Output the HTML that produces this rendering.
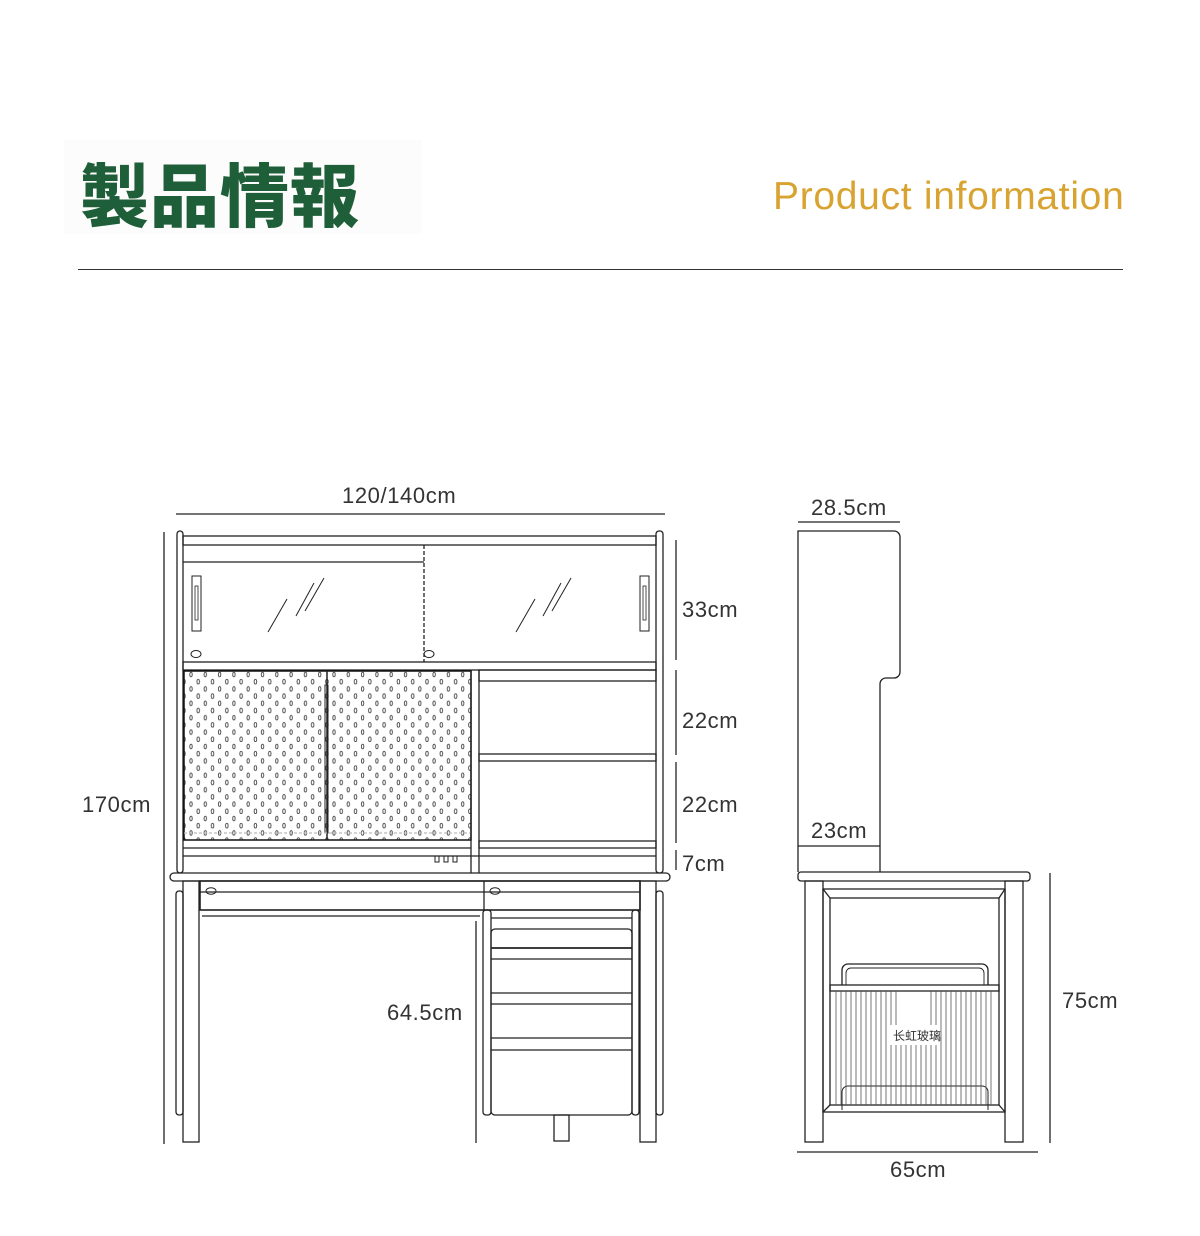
<!DOCTYPE html>
<html><head><meta charset="utf-8"><style>
html,body{margin:0;padding:0;background:#fff;}
body{width:1200px;height:1236px;overflow:hidden;position:relative;font-family:"Liberation Sans","Noto Sans CJK JP",sans-serif;}
.t{position:absolute;color:#333;font-size:22px;letter-spacing:0.6px;}
</style></head><body>
<div style="position:absolute;left:64px;top:140px;width:358px;height:94px;background:#fcfcfc"></div>
<div style="position:absolute;left:80px;top:146px;font-family:'Noto Sans CJK JP',sans-serif;font-weight:900;font-size:69px;color:#1e5e38;letter-spacing:1px;line-height:90px">製品情報</div>
<div style="position:absolute;left:773px;top:174px;font-size:39px;color:#d9a331;line-height:46px;letter-spacing:0.7px">Product information</div>
<div style="position:absolute;left:78px;top:269px;width:1045px;height:1px;background:#333"></div>

<svg width="1200" height="1236" style="position:absolute;left:0;top:0" fill="none" stroke="#222" stroke-width="1.3">
<defs>
<pattern id="peg" x="184" y="671" width="14.3" height="14.4" patternUnits="userSpaceOnUse">
<ellipse cx="7" cy="3.5" rx="1.2" ry="2.3" stroke="#444" stroke-width="0.9"/>
<ellipse cx="14.15" cy="10.7" rx="1.2" ry="2.3" stroke="#444" stroke-width="0.9"/>
<ellipse cx="0" cy="10.7" rx="1.2" ry="2.3" stroke="#444" stroke-width="0.9"/>
</pattern>
</defs>
<line x1="176" y1="514" x2="665" y2="514"/>
<line x1="164" y1="532" x2="164" y2="1144"/>
<line x1="676" y1="540" x2="676" y2="660"/>
<line x1="676" y1="670" x2="676" y2="755"/>
<line x1="676" y1="762" x2="676" y2="843"/>
<line x1="676" y1="850" x2="676" y2="870"/>
<line x1="476" y1="921" x2="476" y2="1143"/>
<rect x="177" y="531" width="6" height="342" rx="3"/>
<rect x="656" y="531" width="7" height="342" rx="3"/>
<rect x="183" y="536" width="473" height="9"/>
<line x1="183" y1="562" x2="424" y2="562"/>
<line x1="424" y1="545" x2="424" y2="662" stroke-dasharray="4 2"/>
<rect x="192" y="576" width="9" height="55" stroke-width="1"/>
<rect x="195" y="586" width="3" height="34" stroke-width="0.8"/>
<rect x="640" y="576" width="9" height="55" stroke-width="1"/>
<rect x="643" y="586" width="3" height="34" stroke-width="0.8"/>
<ellipse cx="196" cy="654" rx="5" ry="3.5" stroke-width="1"/>
<ellipse cx="429" cy="654" rx="5" ry="3.5" stroke-width="1"/>
<g stroke-width="1">
<line x1="268" y1="632" x2="287" y2="599"/><line x1="296" y1="616" x2="314" y2="583"/><line x1="305" y1="611" x2="324" y2="578"/>
<line x1="516" y1="632" x2="535" y2="599"/><line x1="543" y1="616" x2="561" y2="583"/><line x1="552" y1="611" x2="571" y2="578"/>
</g>
<rect x="183" y="662" width="473" height="8"/>
<rect x="184" y="671" width="287" height="169" fill="url(#peg)" stroke="#111" stroke-width="1.5"/>
<line x1="327" y1="671" x2="327" y2="840" stroke-width="1.5"/>
<rect x="325" y="685" width="3" height="148" stroke-width="1"/>
<line x1="184" y1="833" x2="471" y2="833" stroke="#bbb" stroke-dasharray="3 2"/>
<line x1="471" y1="670" x2="471" y2="873"/>
<line x1="479" y1="670" x2="479" y2="873"/>
<rect x="479" y="670" width="177" height="11"/>
<rect x="479" y="754" width="177" height="7"/>
<rect x="479" y="841" width="177" height="7"/>
<line x1="183" y1="848" x2="471" y2="848"/>
<line x1="183" y1="856" x2="656" y2="856"/>
<path d="M435 856 v6 h4 v-6 M444 856 v6 h4 v-6 M453 856 v6 h4 v-6" stroke-width="1"/>
<rect x="170" y="873" width="500" height="8" rx="4"/>
<rect x="200" y="881" width="440" height="29" stroke-width="1.6"/>
<line x1="200" y1="892" x2="640" y2="892"/>
<line x1="484" y1="881" x2="484" y2="910"/>
<ellipse cx="211" cy="891" rx="5" ry="3.3" stroke-width="1"/>
<ellipse cx="495" cy="891" rx="5" ry="3.3" stroke-width="1"/>
<line x1="202" y1="916" x2="480" y2="916"/>
<rect x="183" y="881" width="16" height="261"/>
<rect x="640" y="881" width="16" height="261"/>
<rect x="176" y="891" width="7" height="224" rx="3"/>
<rect x="656" y="891" width="7" height="224" rx="3"/>
<rect x="483" y="910" width="8" height="205" rx="3"/>
<rect x="632" y="910" width="7" height="205" rx="3"/>
<line x1="491" y1="918" x2="632" y2="918"/>
<rect x="491" y="929" width="141" height="186" rx="4"/>
<line x1="491" y1="948" x2="632" y2="948" stroke-width="1.8"/>
<line x1="491" y1="959" x2="632" y2="959"/>
<line x1="491" y1="993" x2="632" y2="993"/>
<line x1="491" y1="1004" x2="632" y2="1004"/>
<line x1="491" y1="1038" x2="632" y2="1038"/>
<line x1="491" y1="1050" x2="632" y2="1050"/>
<rect x="554" y="1115" width="15" height="26"/>

<line x1="798" y1="522" x2="900" y2="522"/>
<path d="M798 872 V531 H894 a6 6 0 0 1 6 6 V672 a6 6 0 0 1 -6 6 H886 a6 6 0 0 0 -6 6 V872"/>
<line x1="798" y1="846" x2="880" y2="846"/>
<rect x="798" y="872" width="232" height="9" rx="3"/>
<rect x="805" y="881" width="18" height="261"/>
<rect x="1005" y="881" width="18" height="261"/>
<rect x="823" y="889" width="182" height="223"/>
<rect x="830" y="898" width="169" height="207"/>
<line x1="823" y1="889" x2="830" y2="898"/><line x1="1005" y1="889" x2="999" y2="898"/>
<line x1="823" y1="1112" x2="830" y2="1105"/><line x1="1005" y1="1112" x2="999" y2="1105"/>
<path d="M842 985 V970 a6 6 0 0 1 6 -6 H982 a6 6 0 0 1 6 6 V985"/>
<path d="M846 985 V973 a5 5 0 0 1 5 -5 H979 a5 5 0 0 1 5 5 V985" stroke-width="0.9"/>
<rect x="830" y="985" width="169" height="6"/>
<path d="M842 1110 V1092 a6 6 0 0 1 6 -6 H982 a6 6 0 0 1 6 6 V1110" stroke-width="1"/>
<g stroke-width="0.8" stroke="#555">
<line x1="836" y1="991" x2="836" y2="1105"/><line x1="841" y1="991" x2="841" y2="1105"/><line x1="846" y1="991" x2="846" y2="1105"/><line x1="851" y1="991" x2="851" y2="1105"/><line x1="856" y1="991" x2="856" y2="1105"/><line x1="861" y1="991" x2="861" y2="1105"/><line x1="866" y1="991" x2="866" y2="1105"/><line x1="871" y1="991" x2="871" y2="1105"/><line x1="876" y1="991" x2="876" y2="1105"/><line x1="881" y1="991" x2="881" y2="1105"/><line x1="886" y1="991" x2="886" y2="1105"/><line x1="891" y1="991" x2="891" y2="1025"/><line x1="891" y1="1045" x2="891" y2="1105"/><line x1="936" y1="991" x2="936" y2="1025"/><line x1="936" y1="1045" x2="936" y2="1105"/><line x1="941" y1="991" x2="941" y2="1105"/><line x1="946" y1="991" x2="946" y2="1105"/><line x1="951" y1="991" x2="951" y2="1105"/><line x1="956" y1="991" x2="956" y2="1105"/><line x1="961" y1="991" x2="961" y2="1105"/><line x1="966" y1="991" x2="966" y2="1105"/><line x1="971" y1="991" x2="971" y2="1105"/><line x1="976" y1="991" x2="976" y2="1105"/><line x1="981" y1="991" x2="981" y2="1105"/><line x1="986" y1="991" x2="986" y2="1105"/><line x1="991" y1="991" x2="991" y2="1105"/>
<line x1="896" y1="1045" x2="896" y2="1105"/><line x1="901" y1="1045" x2="901" y2="1105"/><line x1="906" y1="1045" x2="906" y2="1105"/><line x1="911" y1="1045" x2="911" y2="1105"/><line x1="916" y1="1045" x2="916" y2="1105"/><line x1="921" y1="1045" x2="921" y2="1105"/><line x1="926" y1="1045" x2="926" y2="1105"/><line x1="931" y1="1045" x2="931" y2="1105"/>
<line x1="896" y1="991" x2="896" y2="1025"/><line x1="931" y1="991" x2="931" y2="1025"/>
</g>
<line x1="1050" y1="873" x2="1050" y2="1143"/>
<line x1="797" y1="1152" x2="1038" y2="1152"/>
<text x="893" y="1040" font-size="12" fill="#333" stroke="none" font-family="'Noto Sans CJK SC',sans-serif">长虹玻璃</text>
</svg>

<div class="t" style="left:342px;top:483px">120/140cm</div>
<div class="t" style="left:82px;top:792px">170cm</div>
<div class="t" style="left:682px;top:597px">33cm</div>
<div class="t" style="left:682px;top:708px">22cm</div>
<div class="t" style="left:682px;top:792px">22cm</div>
<div class="t" style="left:682px;top:851px">7cm</div>
<div class="t" style="left:387px;top:1000px">64.5cm</div>
<div class="t" style="left:811px;top:495px">28.5cm</div>
<div class="t" style="left:811px;top:818px">23cm</div>
<div class="t" style="left:1062px;top:988px">75cm</div>
<div class="t" style="left:890px;top:1157px">65cm</div>
</body></html>
